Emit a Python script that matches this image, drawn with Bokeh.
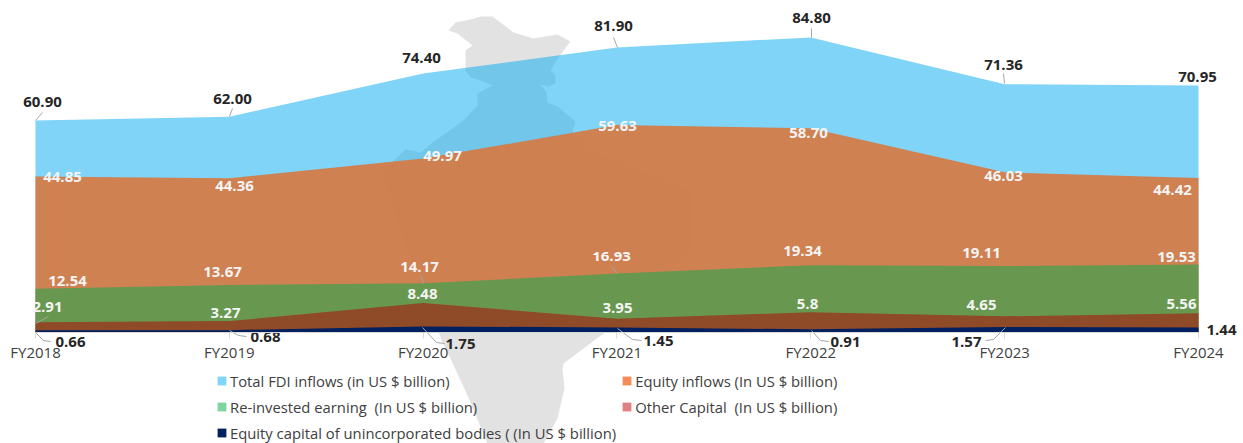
from bokeh.plotting import figure
from bokeh.models import Range1d, LinearAxis, FixedTicker, Legend, LegendItem, ColumnDataSource
from bokeh.embed import file_html
from bokeh.resources import INLINE
from bokeh.core.properties import value

years = ["FY2018", "FY2019", "FY2020", "FY2021", "FY2022", "FY2023", "FY2024"]
total_fdi = [60.90, 62.00, 74.40, 81.90, 84.80, 71.36, 70.95]
equity = [44.85, 44.36, 49.97, 59.63, 58.70, 46.03, 44.42]
reinvested = [12.54, 13.67, 14.17, 16.93, 19.34, 19.11, 19.53]
other_cap = [2.91, 3.27, 8.48, 3.95, 5.8, 4.65, 5.56]
unincorp = [0.66, 0.68, 1.75, 1.45, 0.91, 1.57, 1.44]
other_text = ["2.91", "3.27", "8.48", "3.95", "5.8", "4.65", "5.56"]

legend_labels = [
    "Total FDI inflows (in US $ billion)",
    "Re-invested earning  (In US $ billion)",
    "Equity capital of unincorporated bodies ( (In US $ billion)",
    "Equity inflows (In US $ billion)",
    "Other Capital  (In US $ billion)",
]
legend_colors = ["#7fd4f8", "#7fd4a0", "#002060", "#f58b56", "#e08080"]

# Layout in picture pixels
W, H = 1243, 443
X0, XSTEP = 35.0, 193.83
Y0, YSCALE = 332.0, 3.48
def dx(px): return (px - X0) / XSTEP
def dy(py): return (Y0 - py) / YSCALE

# Label centres (picture pixels)
total_lab = [(42, 101), (232, 98), (421, 58), (613, 26), (811, 17), (1003, 64), (1197, 76)]
equity_lab = [(62, 176), (234, 185), (442, 155), (617, 125), (808, 132), (1003, 175), (1172, 189)]
reinv_lab = [(67, 280), (222, 271), (419, 266), (611, 256), (802, 250), (981, 252), (1176, 256)]
other_lab = [(47, 306), (225, 312), (422, 293), (617, 307), (807, 303), (981, 304), (1181, 303)]
uninc_lab = [(70, 341), (265, 336), (460, 343), (658, 340), (845, 341), (966, 341), (1221, 329)]

# Leader lines (picture pixels)
leaders = [
    [(35, 120), (42, 112)], [(229, 116), (232, 108)], [(617, 47), (613, 37)],
    [(811, 37), (811, 28)], [(1004, 83), (1003, 73)],
    [(35, 323), (48, 316)], [(423, 283), (420, 275)], [(617, 273), (611, 266)],
    [(35, 332), (43, 340), (50, 341)], [(229, 330), (238, 335), (246, 336)],
    [(422, 327), (436, 342), (444, 343)], [(617, 328), (632, 339), (641, 340)],
    [(811, 330), (820, 340), (828, 341)], [(1005, 327), (993, 339), (985, 340)],
]

# Background map outline (picture pixels)
map_outline = [
    (448, 30), (455, 22), (470, 19), (480, 16), (492, 16), (513, 32), (533, 38), (557, 34),
    (570, 41), (558, 57), (550, 70), (555, 75), (555, 83), (548, 86), (540, 84), (546, 92),
    (547, 102), (557, 106), (575, 121), (572, 131), (590, 150), (640, 170), (690, 190),
    (690, 250), (650, 290), (625, 315), (603, 333), (563, 363), (562, 368), (564, 388),
    (557, 418), (543, 443), (487, 443), (467, 395), (450, 358), (442, 342), (430, 310),
    (400, 230), (392, 200), (380, 170), (390, 163), (405, 149), (420, 152), (435, 140),
    (463, 120), (477, 105), (477, 93), (492, 85), (480, 80), (470, 77), (465, 70), (465, 50),
    (472, 45), (457, 33),
]

p = figure(width=W, height=H, output_backend="svg", toolbar_location=None,
           x_range=Range1d(dx(0), dx(W)), y_range=Range1d(dy(H), dy(0)),
           min_border=0, outline_line_color=None, background_fill_color="white",
           border_fill_color="white", margin=(0, 0, 0, 0))
p.xaxis.visible = False
p.yaxis.visible = False
p.grid.visible = False

xs = list(range(len(years)))

p.patch([dx(a) for a, _ in map_outline], [dy(b) for _, b in map_outline],
        fill_color="#e2e2e2", line_color=None)

p.varea(xs, 0, total_fdi, fill_color="#00a9f1", fill_alpha=0.5)
p.varea(xs, 0, equity, fill_color="#d47c49", fill_alpha=0.95)
p.varea(xs, 0, reinvested, fill_color="#689850")
p.varea(xs, 0, other_cap, fill_color="#8f4a28")
p.varea(xs, 0, unincorp, fill_color="#002060")

ax = LinearAxis(ticker=FixedTicker(ticks=xs), bounds=(0, len(years) - 1),
                major_label_overrides={i: y for i, y in enumerate(years)})
ax.fixed_location = 0
ax.axis_line_color = "#d9d9d9"
ax.major_tick_line_color = "#d9d9d9"
ax.major_tick_out = 6
ax.major_tick_in = 0
ax.minor_tick_line_color = None
ax.major_label_text_font = "Open Sans"
ax.major_label_text_font_size = "15px"
ax.major_label_text_color = "#404040"
ax.major_label_standoff = 3
p.add_layout(ax, "below")

for pts in leaders:
    p.line([dx(a) for a, _ in pts], [dy(b) for _, b in pts], line_color="#a6a6a6", line_width=1)

def labels(vals, pos, color, texts=None):
    texts = texts if texts is not None else [f"{v:.2f}" for v in vals]
    src = ColumnDataSource(dict(
        x=xs, y=vals, t=texts,
        ox=[a - (X0 + i * XSTEP) for i, (a, _) in enumerate(pos)],
        oy=[b - (Y0 - v * YSCALE) for v, (_, b) in zip(vals, pos)],
    ))
    p.text(x="x", y="y", text="t", x_offset="ox", y_offset="oy", source=src,
           text_color=color, text_font=value("Open Sans"), text_font_size="15px",
           text_font_style="bold", text_align="center", text_baseline="middle")

labels(total_fdi, total_lab, "#262626")
labels(equity, equity_lab, "#f4f4f4")
labels(reinvested, reinv_lab, "#f4f4f4")
labels(other_cap, other_lab, "#f4f4f4", other_text)
labels(unincorp, uninc_lab, "#262626")

items = []
for lab, col in zip(legend_labels, legend_colors):
    r = p.quad(left=[float("nan")], right=[float("nan")], top=[float("nan")], bottom=[float("nan")],
               fill_color=col, line_color=None)
    items.append(LegendItem(label=lab, renderers=[r]))

leg = Legend(items=items, ncols=2, location=(216, 0), background_fill_alpha=0, border_line_color=None,
             glyph_width=11, glyph_height=11, label_standoff=3, spacing=5, padding=0, margin=0,
             label_text_font="Open Sans", label_text_font_size="14.8px", label_text_color="#404040",
             label_height=21)
p.add_layout(leg, "center")

open("out.html", "w").write(file_html(p, INLINE))
